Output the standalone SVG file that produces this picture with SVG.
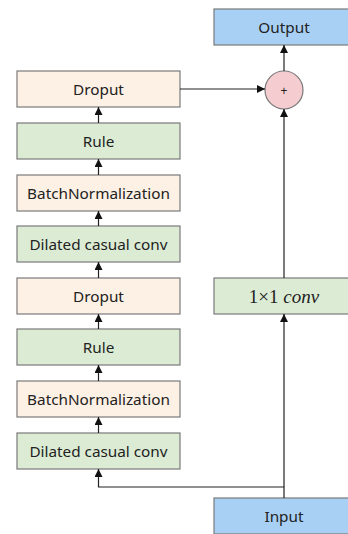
<svg xmlns="http://www.w3.org/2000/svg" width="348" height="534" viewBox="0 0 348 534">
  <defs>
    <marker id="arrow" viewBox="0 0 10 10" refX="10" refY="5" markerWidth="8" markerHeight="8" orient="auto" markerUnits="userSpaceOnUse">
      <path d="M0,0 L10,5 L0,10 z" fill="#111"/>
    </marker>
    <style>
      .box { stroke: #7a7a7a; stroke-width: 1.2; }
      .peach { fill: #fdf0e4; }
      .green { fill: #dcecd4; }
      .blue { fill: #a8d0f4; }
      .sum { fill: #f5cdd1; stroke: #7a7a7a; stroke-width: 1.2; }
      .lbl { font-family: "Noto Sans", "Open Sans", sans-serif; font-size: 15.3px; fill: #222; text-anchor: middle; dominant-baseline: central; }
      .math { font-family: "Liberation Serif", serif; font-size: 19px; fill: #222; text-anchor: middle; dominant-baseline: central; }
      .wire { fill: none; stroke: #222; stroke-width: 1.2; }
    </style>
  </defs>
  <rect width="348" height="534" fill="#ffffff"/>

  <!-- residual block, bottom-up -->
  <g id="dropout-2">
    <rect class="box peach" x="17" y="71" width="163" height="36"/>
    <text class="lbl" x="98.5" y="89">Droput</text>
  </g>
  <g id="relu-2">
    <rect class="box green" x="17" y="123" width="163" height="36"/>
    <text class="lbl" x="98.5" y="141">Rule</text>
  </g>
  <g id="batchnorm-2">
    <rect class="box peach" x="17" y="175" width="163" height="36"/>
    <text class="lbl" x="98.5" y="193">BatchNormalization</text>
  </g>
  <g id="dilated-conv-2">
    <rect class="box green" x="17" y="226" width="163" height="36"/>
    <text class="lbl" x="98.5" y="244">Dilated casual conv</text>
  </g>
  <g id="dropout-1">
    <rect class="box peach" x="17" y="278" width="163" height="36"/>
    <text class="lbl" x="98.5" y="296">Droput</text>
  </g>
  <g id="relu-1">
    <rect class="box green" x="17" y="329" width="163" height="36"/>
    <text class="lbl" x="98.5" y="347">Rule</text>
  </g>
  <g id="batchnorm-1">
    <rect class="box peach" x="17" y="381" width="163" height="36"/>
    <text class="lbl" x="98.5" y="399">BatchNormalization</text>
  </g>
  <g id="dilated-conv-1">
    <rect class="box green" x="17" y="433" width="163" height="36"/>
    <text class="lbl" x="98.5" y="451">Dilated casual conv</text>
  </g>

  <!-- skip path -->
  <g id="output">
    <rect class="box blue" x="214" y="9" width="142" height="36"/>
    <text class="lbl" x="284" y="27">Output</text>
  </g>
  <g id="add">
    <circle class="sum" cx="284" cy="90" r="19"/>
    <text class="lbl" x="284" y="90" style="font-size:12px">+</text>
  </g>
  <g id="conv1x1">
    <rect class="box green" x="214" y="278" width="142" height="36"/>
    <text class="math" x="284" y="296">1×1 <tspan font-style="italic">conv</tspan></text>
  </g>
  <g id="input">
    <rect class="box blue" x="214" y="498" width="142" height="36"/>
    <text class="lbl" x="284" y="516">Input</text>
  </g>

  <g id="connectors">
    <line class="wire" x1="98.5" y1="123" x2="98.5" y2="107" marker-end="url(#arrow)"/>
    <line class="wire" x1="98.5" y1="175" x2="98.5" y2="159" marker-end="url(#arrow)"/>
    <line class="wire" x1="98.5" y1="226" x2="98.5" y2="211" marker-end="url(#arrow)"/>
    <line class="wire" x1="98.5" y1="278" x2="98.5" y2="262" marker-end="url(#arrow)"/>
    <line class="wire" x1="98.5" y1="329" x2="98.5" y2="314" marker-end="url(#arrow)"/>
    <line class="wire" x1="98.5" y1="381" x2="98.5" y2="365" marker-end="url(#arrow)"/>
    <line class="wire" x1="98.5" y1="433" x2="98.5" y2="417" marker-end="url(#arrow)"/>
    <polyline class="wire" points="284,498 284,487 98.5,487 98.5,469" marker-end="url(#arrow)"/>
    <line class="wire" x1="284" y1="487" x2="284" y2="314" marker-end="url(#arrow)"/>
    <line class="wire" x1="284" y1="278" x2="284" y2="109" marker-end="url(#arrow)"/>
    <line class="wire" x1="180" y1="89" x2="265" y2="89" marker-end="url(#arrow)"/>
    <line class="wire" x1="284" y1="71" x2="284" y2="45" marker-end="url(#arrow)"/>
  </g>
</svg>
